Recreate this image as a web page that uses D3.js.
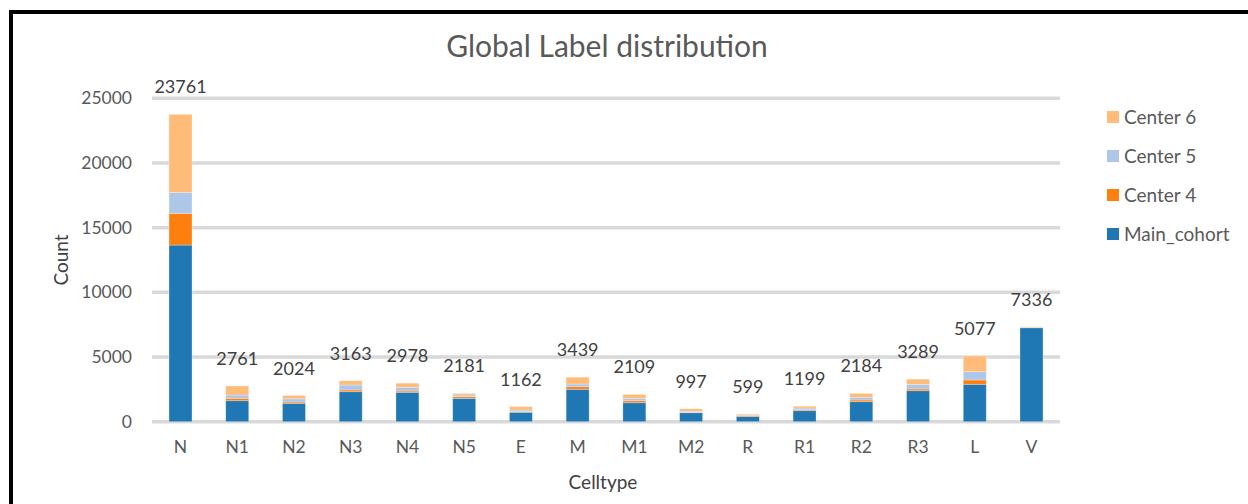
<!DOCTYPE html>
<html>
<head>
<meta charset="utf-8">
<script src="https://cdn.jsdelivr.net/npm/d3@7"></script>
<style>
  body { margin: 0; background: #fff; }
  svg { display: block; font-family: Lato, "Open Sans", sans-serif; }
</style>
</head>
<body>
<svg id="chart" width="1248" height="504"></svg>
<script>
const celltypes = ['N', 'N1', 'N2', 'N3', 'N4', 'N5', 'E', 'M', 'M1', 'M2', 'R', 'R1', 'R2', 'R3', 'L', 'V'];
const mainCohort = [13655, 1623, 1420, 2318, 2272, 1808, 726, 2504, 1468, 696, 400, 850, 1546, 2396, 2890, 7260];
const center4 = [2450, 185, 100, 132, 100, 124, 60, 201, 155, 30, 80, 80, 131, 131, 335, 20];
const center5 = [1623, 255, 250, 386, 286, 131, 120, 208, 185, 80, 50, 130, 208, 363, 642, 10];
const center6 = [6033, 698, 254, 327, 320, 118, 256, 526, 301, 191, 69, 139, 299, 399, 1210, 46];
const totals = [23761, 2761, 2024, 3163, 2978, 2181, 1162, 3439, 2109, 997, 599, 1199, 2184, 3289, 5077, 7336];
const yTicks = [0, 5000, 10000, 15000, 20000, 25000];

const seriesNames = ['Main_cohort', 'Center 4', 'Center 5', 'Center 6'];
const colors = ['#1f77b4', '#ff7f0e', '#aec7e8', '#ffbb78'];

const rows = celltypes.map((c, i) => ({
  cell: c,
  'Main_cohort': mainCohort[i],
  'Center 4': center4[i],
  'Center 5': center5[i],
  'Center 6': center6[i],
  total: totals[i]
}));

const svg = d3.select('#chart');
const plotL = 152, plotR = 1060, plotT = 98.3, plotB = 421.7;

const x = d3.scaleBand().domain(celltypes).range([plotL, plotR]).paddingInner(0.595).paddingOuter(0.3);
const y = d3.scaleLinear().domain([0, 25000]).range([plotB, plotT]);

// frame
svg.append('line').attr('x1', 9).attr('x2', 1248).attr('y1', 12).attr('y2', 12)
  .attr('stroke', '#000').attr('stroke-width', 4);
svg.append('line').attr('x1', 11).attr('x2', 11).attr('y1', 10).attr('y2', 504)
  .attr('stroke', '#000').attr('stroke-width', 4);

// title
svg.append('text').attr('x', 607).attr('y', 57).attr('text-anchor', 'middle')
  .attr('font-size', 30).attr('fill', '#595959').text('Global Label distribution');

// gridlines
svg.append('g').selectAll('line').data(yTicks).enter().append('line')
  .attr('x1', plotL).attr('x2', plotR)
  .attr('y1', d => y(d)).attr('y2', d => y(d))
  .attr('stroke', '#d9d9d9').attr('stroke-width', 3.5);

// y axis
const yAxis = svg.append('g').attr('transform', `translate(${plotL - 20},0)`)
  .call(d3.axisLeft(y).tickValues(yTicks).tickFormat(d3.format('d')).tickSize(0).tickPadding(0));
yAxis.select('.domain').remove();
yAxis.selectAll('text').attr('font-size', 17.5).attr('fill', '#595959')
  .attr('font-family', 'Lato, "Open Sans", sans-serif');

// x axis
const xAxis = svg.append('g').attr('transform', `translate(0,${plotB + 19})`)
  .call(d3.axisBottom(x).tickSize(0).tickPadding(0));
xAxis.select('.domain').remove();
xAxis.selectAll('text').attr('font-size', 17.5).attr('fill', '#595959')
  .attr('font-family', 'Lato, "Open Sans", sans-serif');

// axis titles
svg.append('text').attr('transform', 'translate(68,260) rotate(-90)')
  .attr('text-anchor', 'middle').attr('font-size', 19).attr('fill', '#404040').text('Count');
svg.append('text').attr('x', 603).attr('y', 489)
  .attr('text-anchor', 'middle').attr('font-size', 19).attr('fill', '#404040').text('Celltype');

// stacked bars
const stacked = d3.stack().keys(seriesNames)(rows);
svg.append('g').selectAll('g').data(stacked).enter().append('g')
  .attr('fill', (d, i) => colors[i])
  .selectAll('rect').data(d => d).enter().append('rect')
  .attr('x', d => x(d.data.cell))
  .attr('width', x.bandwidth())
  .attr('y', d => y(d[1]))
  .attr('height', d => y(d[0]) - y(d[1]))
  .attr('stroke', '#ffffff').attr('stroke-opacity', 0.35).attr('stroke-width', 0.8);

// totals
svg.append('g').selectAll('text').data(rows).enter().append('text')
  .attr('x', d => x(d.cell) + x.bandwidth() / 2)
  .attr('y', d => y(d.total) - 21)
  .attr('text-anchor', 'middle').attr('font-size', 18).attr('fill', '#404040')
  .text(d => d.total);

// legend
const legendOrder = [3, 2, 1, 0];
const legend = svg.append('g').selectAll('g').data(legendOrder).enter().append('g')
  .attr('transform', (d, i) => `translate(1107,${117 + i * 39})`);
legend.append('rect').attr('x', 0).attr('y', -6).attr('width', 12).attr('height', 12)
  .attr('fill', d => colors[d]);
legend.append('text').attr('x', 17).attr('dy', '0.35em').attr('font-size', 19)
  .attr('fill', '#595959').text(d => seriesNames[d]);
</script>
</body>
</html>
